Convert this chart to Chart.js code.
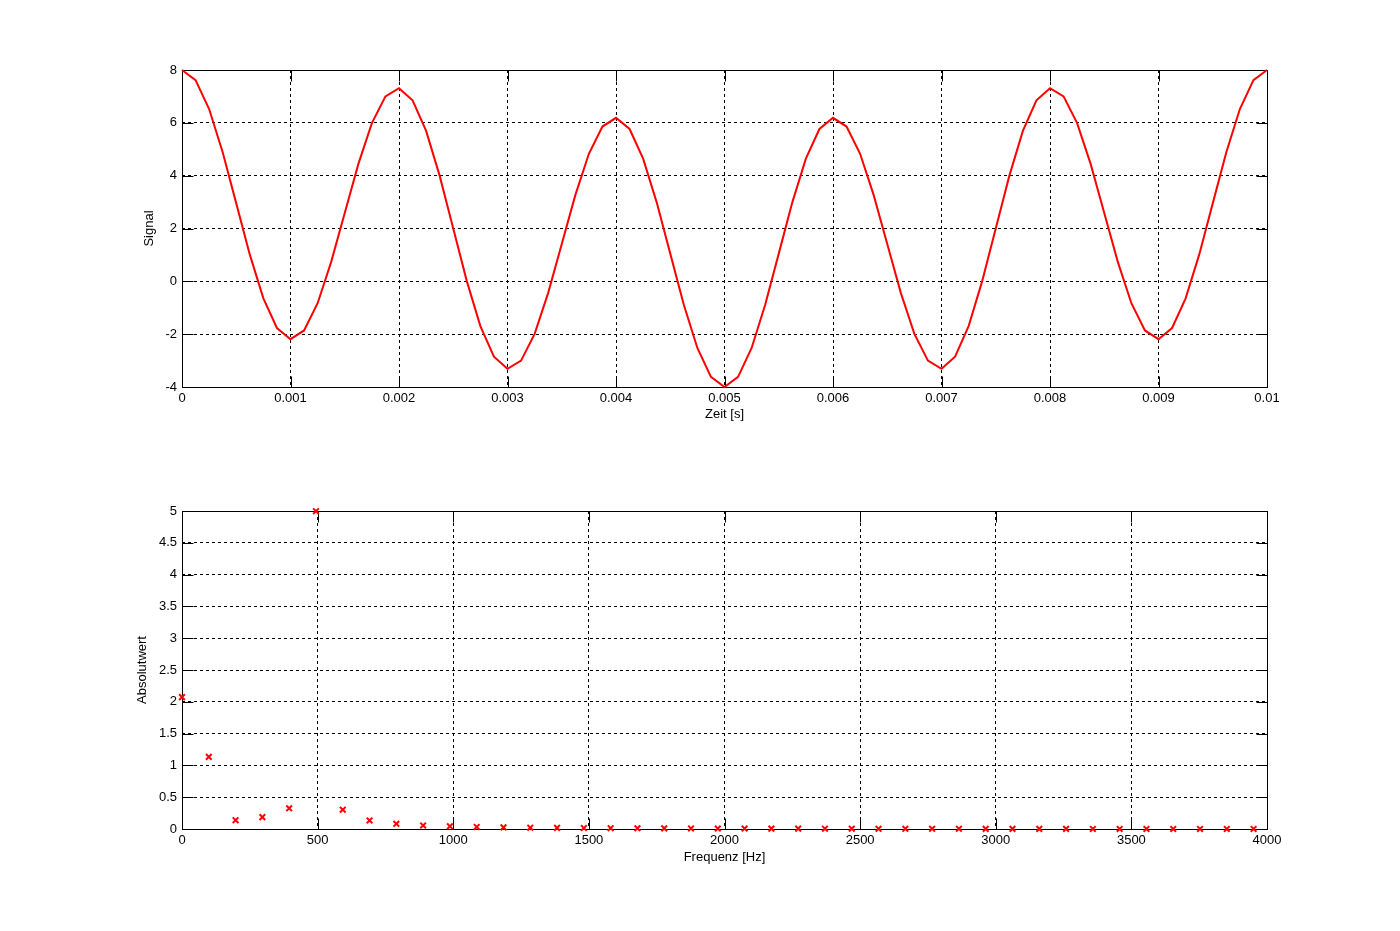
<!DOCTYPE html>
<html><head><meta charset="utf-8">
<script src="https://cdn.jsdelivr.net/npm/chart.js@4.4.1/dist/chart.umd.min.js"></script>
<style>
html,body{margin:0;padding:0;background:#fff;}
#wrap{position:relative;width:1400px;height:931px;overflow:hidden;background:#fff;}
#c1{position:absolute;left:0;top:0;width:1400px;height:465px;}
#c2{position:absolute;left:0;top:465px;width:1400px;height:466px;}
</style></head><body>
<div id="wrap"><canvas id="c1" width="1400" height="465"></canvas><canvas id="c2" width="1400" height="466"></canvas></div>
<script>
// ---- Top plot: time signal ----
const TIME = [0, 0.000125, 0.00025, 0.000375, 0.0005, 0.000625, 0.00075, 0.000875, 0.001, 0.001125,
  0.00125, 0.001375, 0.0015, 0.001625, 0.00175, 0.001875, 0.002, 0.002125, 0.00225, 0.002375,
  0.0025, 0.002625, 0.00275, 0.002875, 0.003, 0.003125, 0.00325, 0.003375, 0.0035, 0.003625,
  0.00375, 0.003875, 0.004, 0.004125, 0.00425, 0.004375, 0.0045, 0.004625, 0.00475, 0.004875,
  0.005, 0.005125, 0.00525, 0.005375, 0.0055, 0.005625, 0.00575, 0.005875, 0.006, 0.006125,
  0.00625, 0.006375, 0.0065, 0.006625, 0.00675, 0.006875, 0.007, 0.007125, 0.00725, 0.007375,
  0.0075, 0.007625, 0.00775, 0.007875, 0.008, 0.008125, 0.00825, 0.008375, 0.0085, 0.008625,
  0.00875, 0.008875, 0.009, 0.009125, 0.00925, 0.009375, 0.0095, 0.009625, 0.00975, 0.009875, 0.01];
const SIGNAL = [8.000, 7.616, 6.523, 4.886, 2.951, 1.010, -0.645, -1.767, -2.191, -1.859,
  -0.828, 0.736, 2.588, 4.436, 5.990, 7.002, 7.309, 6.853, 5.692, 3.992,
  2.000, 0.008, -1.692, -2.853, -3.309, -3.002, -1.990, -0.436, 1.412, 3.264,
  4.828, 5.859, 6.191, 5.767, 4.645, 2.990, 1.049, -0.886, -2.523, -3.616,
  -4.000, -3.616, -2.523, -0.886, 1.049, 2.990, 4.645, 5.767, 6.191, 5.859,
  4.828, 3.264, 1.412, -0.436, -1.990, -3.002, -3.309, -2.853, -1.692, 0.008,
  2.000, 3.992, 5.692, 6.853, 7.309, 7.002, 5.990, 4.436, 2.588, 0.736,
  -0.828, -1.859, -2.191, -1.767, -0.645, 1.010, 2.951, 4.886, 6.523, 7.616, 8.000];
const X1_TICKS = [0, 0.001, 0.002, 0.003, 0.004, 0.005, 0.006, 0.007, 0.008, 0.009, 0.01];
const X1_LABELS = ['0', '0.001', '0.002', '0.003', '0.004', '0.005', '0.006', '0.007', '0.008', '0.009', '0.01'];
const Y1_TICKS = [-4, -2, 0, 2, 4, 6, 8];
const Y1_LABELS = ['-4', '-2', '0', '2', '4', '6', '8'];

// ---- Bottom plot: spectrum ----
const FREQ = [0, 98.77, 197.53, 296.30, 395.06, 493.83, 592.59, 691.36, 790.12, 888.89,
  987.65, 1086.42, 1185.19, 1283.95, 1382.72, 1481.48, 1580.25, 1679.01, 1777.78, 1876.54,
  1975.31, 2074.07, 2172.84, 2271.60, 2370.37, 2469.14, 2567.90, 2666.67, 2765.43, 2864.20,
  2962.96, 3061.73, 3160.49, 3259.26, 3358.02, 3456.79, 3555.56, 3654.32, 3753.09, 3851.85, 3950.62];
const AMP = [2.074, 1.134, 0.138, 0.187, 0.326, 4.997, 0.303, 0.134, 0.082, 0.056,
  0.042, 0.032, 0.026, 0.021, 0.018, 0.015, 0.013, 0.011, 0.0097, 0.0085,
  0.0075, 0.0068, 0.0061, 0.0054, 0.0047, 0.0042, 0.0038, 0.0034, 0.0030, 0.0026,
  0.0023, 0.0021, 0.0018, 0.0016, 0.0013, 0.0011, 0.0009, 0.0007, 0.0005, 0.0003, 0.0001];
const X2_TICKS = [0, 500, 1000, 1500, 2000, 2500, 3000, 3500, 4000];
const X2_LABELS = ['0', '500', '1000', '1500', '2000', '2500', '3000', '3500', '4000'];
const Y2_TICKS = [0, 0.5, 1, 1.5, 2, 2.5, 3, 3.5, 4, 4.5, 5];
const Y2_LABELS = ['0', '0.5', '1', '1.5', '2', '2.5', '3', '3.5', '4', '4.5', '5'];

Chart.defaults.font.family = '"Liberation Sans", Arial, Helvetica, sans-serif';
Chart.defaults.font.size = 13;
Chart.defaults.color = '#000';

const framePlugin = {
  id: 'matlabFrame',
  beforeDatasetsDraw(chart) {
    const {ctx, chartArea: a, scales} = chart;
    const L = Math.round(a.left) + 0.5, R = Math.round(a.right) + 0.5;
    const T = Math.round(a.top) + 0.5, B = Math.round(a.bottom) + 0.5;
    const len = 11;
    ctx.save();
    ctx.strokeStyle = '#000';
    ctx.lineWidth = 1;
    ctx.setLineDash([]);
    ctx.beginPath();
    scales.x.ticks.forEach(t => {
      const px = Math.round(scales.x.getPixelForValue(t.value)) + 0.5;
      ctx.moveTo(px, B); ctx.lineTo(px, B - len);
      ctx.moveTo(px, T); ctx.lineTo(px, T + len);
    });
    scales.y.ticks.forEach(t => {
      const py = Math.round(scales.y.getPixelForValue(t.value)) + 0.5;
      ctx.moveTo(L, py); ctx.lineTo(L + len, py);
      ctx.moveTo(R, py); ctx.lineTo(R - len, py);
    });
    ctx.stroke();
    ctx.strokeRect(L, T, R - L, B - T);
    ctx.restore();
  }
};

function axis(min, max, ticks, labels, fitFn, titleText, titlePad) {
  return {
    type: 'linear', min: min, max: max,
    afterBuildTicks: s => { s.ticks = ticks.map(v => ({value: v})); },
    afterFit: fitFn,
    ticks: { autoSkip: false, maxRotation: 0, minRotation: 0, padding: 0,
             callback: (v, i) => labels[i] },
    grid: { color: '#000', lineWidth: 1, drawTicks: false },
    border: { display: false, dash: [3, 3] },
    title: { display: true, text: titleText, padding: titlePad, font: {size: 13} }
  };
}

function baseOptions(padTop, padBottom, xAxis, yAxis) {
  return {
    responsive: false,
    animation: false,
    devicePixelRatio: 1,
    layout: { padding: { left: 0, right: 133, top: padTop, bottom: padBottom } },
    plugins: { legend: { display: false }, tooltip: { enabled: false } },
    scales: { x: xAxis, y: yAxis }
  };
}

// Top chart
const x1 = axis(0, 0.01, X1_TICKS, X1_LABELS, s => { s.height = 40; }, 'Zeit [s]', {top: 0, bottom: 5});
x1.ticks.padding = 4;
const y1 = axis(-4, 8, Y1_TICKS, Y1_LABELS, s => { s.width = 182; }, 'Signal', {top: 142, bottom: 0});
y1.ticks.padding = 5;

new Chart(document.getElementById('c1'), {
  type: 'scatter',
  data: {
    datasets: [{
      data: TIME.map((t, i) => ({x: t, y: SIGNAL[i]})),
      showLine: true,
      borderColor: '#ff0000',
      backgroundColor: '#ff0000',
      borderWidth: 2,
      pointRadius: 0,
      tension: 0,
      clip: 4
    }]
  },
  options: baseOptions(70, 38, x1, y1),
  plugins: [framePlugin]
});

// Bottom chart
const x2 = axis(0, 4000, X2_TICKS, X2_LABELS, s => { s.height = 40; }, 'Frequenz [Hz]', {top: 0, bottom: 4});
x2.ticks.padding = 4;
const y2 = axis(0, 5, Y2_TICKS, Y2_LABELS, s => { s.width = 182; }, 'Absolutwert', {top: 135, bottom: 0});
y2.ticks.padding = 5;

new Chart(document.getElementById('c2'), {
  type: 'scatter',
  data: {
    datasets: [{
      data: FREQ.map((f, i) => ({x: f, y: AMP[i]})),
      showLine: false,
      pointStyle: 'crossRot',
      pointRadius: 4,
      borderWidth: 2,
      borderColor: '#ff0000',
      backgroundColor: '#ff0000',
      clip: false
    }]
  },
  options: baseOptions(46, 62, x2, y2),
  plugins: [framePlugin]
});
</script>
</body></html>
